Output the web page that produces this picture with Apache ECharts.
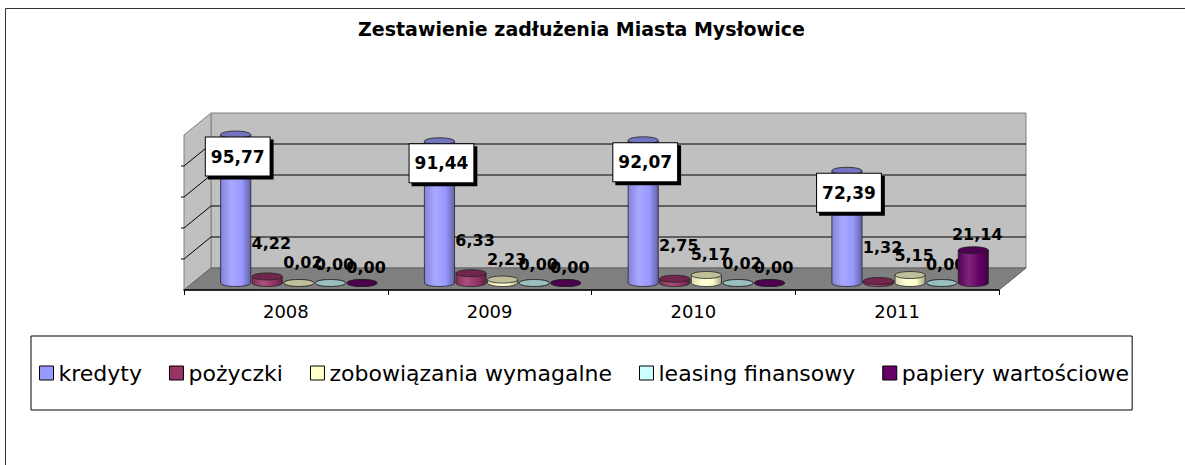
<!DOCTYPE html>
<html>
<head>
<meta charset="utf-8">
<script src="https://cdn.jsdelivr.net/npm/echarts@6/dist/echarts.min.js"></script>
<style>
  html, body { margin: 0; padding: 0; background: #fff; }
  #chart { width: 1185px; height: 465px; }
</style>
</head>
<body>
<div id="chart"></div>
<script>
// dane
const years = ['2008', '2009', '2010', '2011'];
const seriesNames = ['kredyty', 'pożyczki', 'zobowiązania wymagalne', 'leasing finansowy', 'papiery wartościowe'];
const kredyty = [95.77, 91.44, 92.07, 72.39];
const pozyczki = [4.22, 6.33, 2.75, 1.32];
const zobowiazania = [0.02, 2.23, 5.17, 5.15];
const leasing = [0.00, 0.00, 0.02, 0.00];
const papiery = [0.00, 0.00, 0.00, 21.14];
const gridTicks = [20, 40, 60, 80];

// wyglad
const colors = ['#9999ff', '#993366', '#ffffcc', '#ccffff', '#660066'];
const labelDy = [0, -33, -20, -19, -16];

function shade(hex, f) {
    const n = parseInt(hex.slice(1), 16);
    let r = n >> 16, g = (n >> 8) & 255, b = n & 255;
    if (f < 0) { r *= 1 + f; g *= 1 + f; b *= 1 + f; }
    else { r += (255 - r) * f; g += (255 - g) * f; b += (255 - b) * f; }
    return 'rgb(' + Math.round(r) + ',' + Math.round(g) + ',' + Math.round(b) + ')';
}

function fmt(v) {
    return v.toFixed(2).replace('.', ',');
}

function cylinder(idx) {
    const col = colors[idx];
    return function (params, api) {
        const c = api.value(0), v = api.value(1);
        const top = api.coord([c, v]);
        const base = api.coord([c, 0]);
        const band = api.size([1, 0])[0];
        const step = band * 0.155;
        const w = band * 0.148;
        const cx = top[0] + (idx - 2) * step;
        const rx = w / 2, ry = 3.5;
        const grad = new echarts.graphic.LinearGradient(0, 0, 1, 0, [
            { offset: 0, color: shade(col, -0.15) },
            { offset: 0.35, color: shade(col, 0.15) },
            { offset: 0.7, color: col },
            { offset: 1, color: shade(col, -0.35) }
        ]);
        const kids = [
            { type: 'ellipse', shape: { cx: cx, cy: base[1], rx: rx, ry: ry },
              style: { fill: grad, stroke: '#222', lineWidth: 0.8 } },
            { type: 'rect', shape: { x: cx - rx, y: top[1], width: w, height: base[1] - top[1] },
              style: { fill: grad } },
            { type: 'line', shape: { x1: cx - rx, y1: top[1], x2: cx - rx, y2: base[1] },
              style: { stroke: '#222', lineWidth: 0.8 } },
            { type: 'line', shape: { x1: cx + rx, y1: top[1], x2: cx + rx, y2: base[1] },
              style: { stroke: '#222', lineWidth: 0.8 } },
            { type: 'ellipse', shape: { cx: cx, cy: top[1], rx: rx, ry: ry },
              style: { fill: shade(col, -0.25), stroke: '#222', lineWidth: 0.8 } }
        ];
        if (idx === 0) {
            kids.push({
                type: 'text', z2: 10,
                style: {
                    text: fmt(v), x: cx + 2, y: top[1] + 22,
                    align: 'center', verticalAlign: 'middle',
                    font: 'bold 17px "DejaVu Sans"', fill: '#000',
                    backgroundColor: '#fff', borderColor: '#000', borderWidth: 1,
                    padding: [11, 5, 10, 5],
                    shadowColor: '#000', shadowOffsetX: 3, shadowOffsetY: 3, shadowBlur: 0
                }
            });
        } else {
            kids.push({
                type: 'text', z2: 10,
                style: {
                    text: fmt(v), x: cx + 4, y: top[1] + labelDy[idx],
                    align: 'center', verticalAlign: 'middle',
                    font: 'bold 16px "DejaVu Sans"', fill: '#000'
                }
            });
        }
        return { type: 'group', children: kids };
    };
}

function frame(params, api) {
    const cs = params.coordSys;
    const X0 = cs.x, X1 = cs.x + cs.width, Yt = cs.y, Yb = cs.y + cs.height;
    const bx = 14, by = -15, fx = -13, fy = 7;
    const kids = [
        { type: 'polygon', shape: { points: [[X0 + bx, Yt + by], [X1 + bx, Yt + by], [X1 + bx, Yb + by], [X0 + bx, Yb + by]] },
          style: { fill: '#c0c0c0', stroke: '#808080', lineWidth: 1 } },
        { type: 'polygon', shape: { points: [[X0 + fx, Yt + fy], [X0 + bx, Yt + by], [X0 + bx, Yb + by], [X0 + fx, Yb + fy]] },
          style: { fill: '#c0c0c0', stroke: '#808080', lineWidth: 1 } },
        { type: 'polygon', shape: { points: [[X0 + fx, Yb + fy], [X1 + fx, Yb + fy], [X1 + bx, Yb + by], [X0 + bx, Yb + by]] },
          style: { fill: '#808080', stroke: '#606060', lineWidth: 1 } }
    ];
    gridTicks.forEach(function (t) {
        const y = api.coord([0, t])[1];
        kids.push({ type: 'line', shape: { x1: X0 + bx, y1: y + by, x2: X1 + bx, y2: y + by }, style: { stroke: '#000', lineWidth: 1.2 } });
        kids.push({ type: 'line', shape: { x1: X0 + fx, y1: y + fy, x2: X0 + bx, y2: y + by }, style: { stroke: '#000', lineWidth: 1 } });
        kids.push({ type: 'line', shape: { x1: X0 + fx - 3, y1: y + fy, x2: X0 + fx, y2: y + fy }, style: { stroke: '#000', lineWidth: 1 } });
    });
    return { type: 'group', children: kids };
}

const allData = [kredyty, pozyczki, zobowiazania, leasing, papiery];

const chart = echarts.init(document.getElementById('chart'), null, { renderer: 'svg' });

const series = [{
    type: 'custom', name: 'frame', xAxisIndex: 0, yAxisIndex: 0,
    z: 1, silent: true, renderItem: frame,
    data: [[0, 0]]
}];
allData.forEach(function (arr, i) {
    series.push({
        type: 'custom', name: seriesNames[i], xAxisIndex: 0, yAxisIndex: 0, z: 2 + i,
        itemStyle: { color: colors[i] },
        renderItem: cylinder(i),
        data: arr.map(function (v, k) { return [k, v]; })
    });
});

const option = {
    animation: false,
    title: {
        text: 'Zestawienie zadłużenia Miasta Mysłowice',
        left: 353, top: 14,
        textStyle: { fontFamily: 'DejaVu Sans', fontWeight: 'bold', fontSize: 19, color: '#000' }
    },
    graphic: [{
        type: 'rect', silent: true,
        shape: { x: 5.5, y: 8.5, width: 1200, height: 500 },
        style: { fill: 'none', stroke: '#333', lineWidth: 1 }
    }],
    legend: {
        data: seriesNames,
        left: 31, top: 336,
        padding: [26, 3, 26, 8],
        itemGap: 27, itemWidth: 14, itemHeight: 14,
        icon: 'rect',
        itemStyle: { borderColor: '#000', borderWidth: 1 },
        borderColor: '#000', borderWidth: 1,
        textStyle: { fontFamily: 'DejaVu Sans', fontSize: 22, color: '#000' }
    },
    grid: [
        { left: 197, right: 173, top: 128, bottom: 182 },
        { left: 184, right: 186, top: 135, bottom: 175 }
    ],
    xAxis: [
        { type: 'category', gridIndex: 0, data: years, show: false },
        {
            type: 'category', gridIndex: 1, data: years, z: 10,
            axisLine: { lineStyle: { color: '#000', width: 1.5 } },
            axisTick: { show: true, length: 5, lineStyle: { color: '#000' } },
            axisLabel: { color: '#000', fontFamily: 'DejaVu Sans', fontSize: 18, margin: 12 }
        }
    ],
    yAxis: [
        { type: 'value', gridIndex: 0, min: 0, max: 100, interval: 20, show: false },
        { type: 'value', gridIndex: 1, min: 0, max: 100, show: false }
    ],
    series: series
};

chart.setOption(option);
window.addEventListener('resize', () => chart.resize());
</script>
</body>
</html>
